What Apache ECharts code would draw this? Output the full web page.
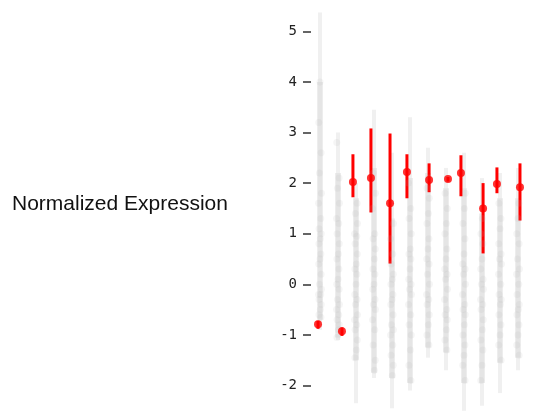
<!DOCTYPE html>
<html><head><meta charset="utf-8">
<script src="https://cdn.jsdelivr.net/npm/echarts@6/dist/echarts.min.js"></script>
<style>html,body{margin:0;padding:0;background:#fff}#c{width:538px;height:412px}</style>
</head><body><div id="c"></div>
<script>
// Columns (12 groups)
const columns = [1,2,3,4,5,6,7,8,9,10,11,12];
// Gray sample values per column
const samples1 = [4.0,3.2,2.6,2.2,1.8,1.6,1.3,1.1,1.0,0.9,0.8,0.6,0.5,0.4,0.2,0.0,-0.1,-0.2,-0.2,-0.3,-0.4,-0.5,-0.6,-0.65];
const samples2 = [2.8,2.1,1.9,1.6,1.3,1.2,1.0,0.8,0.6,0.5,0.3,0.1,0.0,-0.1,-0.3,-0.4,-0.5,-0.6,-0.7,-0.8,-0.9,-1.05];
const samples3 = [1.6,1.4,1.2,1.0,0.95,0.8,0.6,0.4,0.3,0.2,0.0,-0.2,-0.3,-0.4,-0.6,-0.7,-0.8,-0.9,-1.1,-1.3,-1.45];
const samples4 = [2.2,1.8,1.5,1.0,0.9,0.7,0.5,0.3,0.2,0.0,-0.1,-0.3,-0.4,-0.5,-0.7,-0.9,-1.2,-1.5,-1.7];
const samples5 = [1.2,0.9,0.6,0.4,0.2,0.1,0.0,-0.2,-0.3,-0.4,-0.6,-0.8,-0.9,-1.0,-1.2,-1.4,-1.6,-1.8];
const samples6 = [2.0,1.5,1.3,1.0,0.7,0.6,0.5,0.3,0.1,0.0,-0.1,-0.2,-0.4,-0.6,-0.8,-1.0,-1.3,-1.6,-1.9];
const samples7 = [2.1,1.9,1.7,1.4,1.2,0.9,0.7,0.5,0.4,0.2,0.0,-0.2,-0.3,-0.4,-0.6,-0.8,-1.0,-1.2];
const samples8 = [1.8,1.5,1.2,1.0,0.7,0.5,0.3,0.2,0.1,-0.1,-0.3,-0.5,-0.6,-0.7,-0.9,-1.1,-1.3];
const samples9 = [1.8,1.5,1.2,0.9,0.6,0.4,0.3,0.2,0.0,-0.2,-0.4,-0.5,-0.6,-0.8,-1.0,-1.2,-1.4,-1.6,-1.9];
const samples10 = [1.3,1.0,0.8,0.5,0.3,0.1,0.0,-0.1,-0.3,-0.4,-0.5,-0.7,-0.9,-1.1,-1.3,-1.6,-1.9];
const samples11 = [1.6,1.3,1.1,0.8,0.6,0.5,0.4,0.2,0.0,-0.2,-0.3,-0.4,-0.6,-0.8,-1.0,-1.2,-1.5];
const samples12 = [1.6,1.3,1.0,0.8,0.5,0.3,0.2,0.0,-0.2,-0.4,-0.5,-0.6,-0.8,-1.0,-1.2,-1.4];
const samples = [samples1,samples2,samples3,samples4,samples5,samples6,samples7,samples8,samples9,samples10,samples11,samples12];
// Gray range extents per column
const rangeHigh = [5.37,3.0,2.0,3.45,2.6,3.3,2.7,2.3,2.6,2.1,2.2,2.3];
const rangeLow  = [-0.9,-1.1,-2.35,-1.85,-2.45,-2.1,-1.45,-1.7,-2.5,-2.4,-2.15,-1.7];
// Dense-core extents per column
const coreHigh = [4.0,2.2,1.7,2.3,1.3,2.1,2.2,1.9,1.9,1.4,1.7,1.7];
const coreLow  = [-0.7,-1.05,-1.5,-1.75,-1.85,-1.95,-1.25,-1.35,-1.95,-1.95,-1.55,-1.45];
// Red summary: mean and interval
const meanVals = [-0.79,-0.93,2.02,2.1,1.6,2.22,2.06,2.08,2.2,1.5,1.98,1.92];
const lowVals  = [-0.88,-1.02,1.72,1.42,0.41,1.7,1.82,2.03,1.74,0.61,1.8,1.26];
const highVals = [-0.72,-0.85,2.57,3.08,2.98,2.57,2.39,2.12,2.55,2.0,2.31,2.39];
const redOffset = [-0.11,0.22,-0.17,-0.17,-0.11,-0.17,0.06,0.11,-0.17,0.06,-0.17,0.11];
const jitter = [0,-0.07,0.06,-0.03,0.08,-0.08,0.04,-0.05,0.07,0.02,-0.06,0.05];
const yTicks = [-2,-1,0,1,2,3,4,5];

const grayPts = [];
samples.forEach((arr,ci)=>arr.forEach((v,k)=>grayPts.push([columns[ci]+jitter[(k+ci)%jitter.length], v])));
const grayRanges = columns.map((c,i)=>[c, rangeLow[i], rangeHigh[i]]);
const coreRanges = columns.map((c,i)=>[c, coreLow[i], coreHigh[i]]);
const redRanges = columns.map((c,i)=>[c+redOffset[i], lowVals[i], highVals[i]]);
const redPts = columns.map((c,i)=>[c+redOffset[i], meanVals[i]]);

function barRender(width, fill){
  return function(params, api){
    const x = api.value(0), lo = api.value(1), hi = api.value(2);
    const p1 = api.coord([x, hi]), p2 = api.coord([x, lo]);
    return {type:'rect', shape:{x:p1[0]-width/2, y:p1[1], width:width, height:p2[1]-p1[1]}, style:{fill:fill}};
  };
}

const chart = echarts.init(document.getElementById('c'), null, {renderer:'canvas'});
chart.setOption({
  animation:false,
  grid:{left:311, width:216, top:6, height:404.8},
  xAxis:{type:'value', min:0.5, max:12.5, show:false},
  yAxis:{type:'value', min:-2.5, max:5.5, splitLine:{show:false},
    axisLine:{show:false},
    axisTick:{show:true, length:8, customValues:yTicks, lineStyle:{color:'#333', width:1.5}},
    axisLabel:{customValues:yTicks, margin:14, fontFamily:'DejaVu Sans Mono', fontSize:14, color:'#222'}},
  graphic:[{type:'text', left:12, top:194, style:{text:'Normalized Expression', font:'21px "Liberation Sans", Arial, sans-serif', fill:'#111'}}],
  series:[
    {type:'custom', data:grayRanges, encode:{x:0,y:[1,2]}, renderItem:barRender(4,'rgba(228,228,228,0.55)'), silent:true},
    {type:'custom', data:coreRanges, encode:{x:0,y:[1,2]}, renderItem:barRender(6,'rgba(220,220,220,0.5)'), silent:true},
    {type:'scatter', data:grayPts, symbolSize:7, itemStyle:{color:'rgba(175,175,175,0.16)'}, silent:true},
    {type:'custom', data:redRanges, encode:{x:0,y:[1,2]}, renderItem:barRender(3,'#ff0000'), silent:true},
    {type:'scatter', data:redPts, symbolSize:8, itemStyle:{color:'#ff0000'}, silent:true}
  ]
});
</script></body></html>
